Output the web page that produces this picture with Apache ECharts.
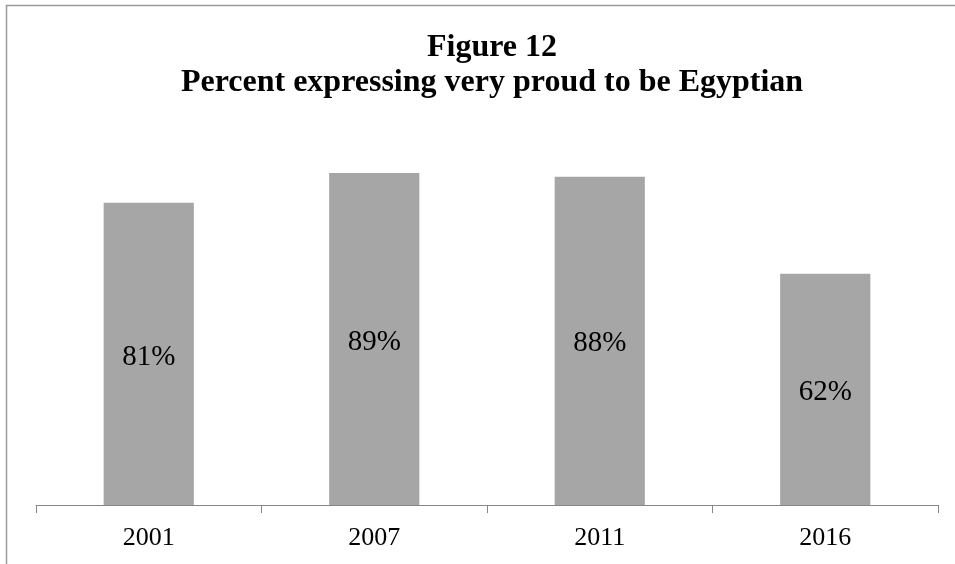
<!DOCTYPE html>
<html>
<head>
<meta charset="utf-8">
<script src="https://cdn.jsdelivr.net/npm/echarts@6/dist/echarts.min.js"></script>
<style>
  html, body { margin: 0; padding: 0; background: #fff; }
  #chart { width: 955px; height: 564px; }
</style>
</head>
<body>
<div id="chart"></div>
<script>
// Survey years and share of respondents very proud to be Egyptian (%)
const years = ['2001', '2007', '2011', '2016'];
const veryProud = [81, 89, 88, 62];
const titleLines = ['Figure 12', 'Percent expressing very proud to be Egyptian'];

const serif = '"Liberation Serif", "Times New Roman", serif';
const chart = echarts.init(document.getElementById('chart'), null, { renderer: 'canvas' });

chart.setOption({
  backgroundColor: '#ffffff',
  animation: false,
  title: {
    text: titleLines.join('\n'),
    left: 487,
    textAlign: 'center',
    top: 25,
    textStyle: {
      fontFamily: serif,
      fontWeight: 'bold',
      fontSize: 32,
      lineHeight: 35,
      color: '#000'
    }
  },
  graphic: [{
    type: 'rect',
    silent: true,
    shape: { x: 6.5, y: 5.5, width: 1200, height: 1200 },
    style: { fill: 'none', stroke: '#9a9a9a', lineWidth: 1.5 }
  }],
  grid: { left: 36, right: 17, top: 132, bottom: 59 },
  xAxis: {
    type: 'category',
    data: years,
    axisLine: { lineStyle: { color: '#868686', width: 1 } },
    axisTick: { show: true, alignWithLabel: false, length: 8, lineStyle: { color: '#868686' } },
    axisLabel: {
      fontFamily: serif,
      fontSize: 26,
      color: '#000',
      margin: 20
    }
  },
  yAxis: {
    type: 'value',
    min: 0,
    max: 100,
    show: false,
    splitLine: { show: false }
  },
  series: [{
    type: 'bar',
    data: veryProud,
    barWidth: '40%',
    itemStyle: { color: '#a6a6a6' },
    label: {
      show: true,
      position: 'inside',
      offset: [0, 3],
      formatter: '{c}%',
      fontFamily: serif,
      fontSize: 29,
      color: '#000'
    }
  }]
});
</script>
</body>
</html>
